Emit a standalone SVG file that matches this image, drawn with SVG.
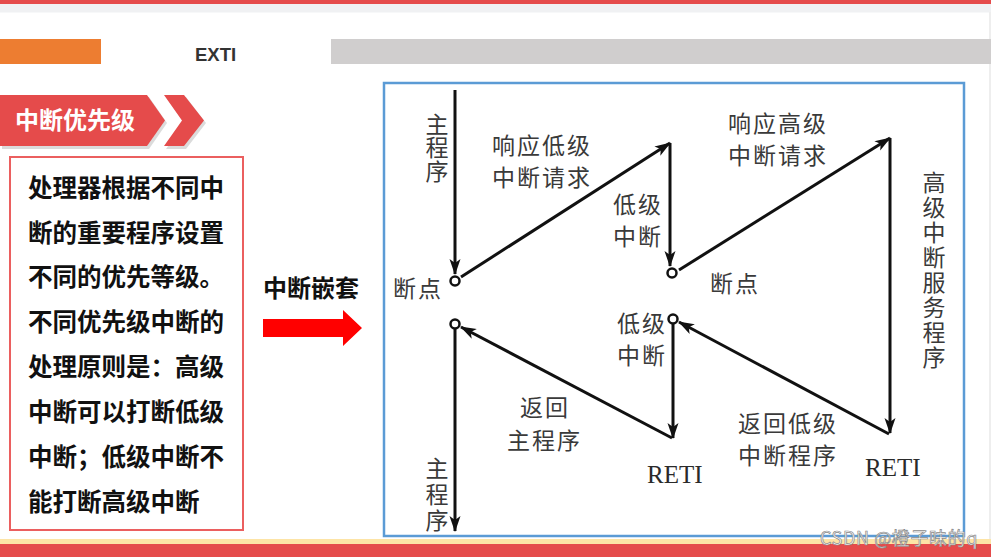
<svg xmlns="http://www.w3.org/2000/svg" width="991" height="557" viewBox="0 0 991 557">
<style>
.dg{font-family:"Noto Sans CJK SC","Noto Sans",sans-serif;font-size:23px;fill:#3a3a3a;letter-spacing:2px}
.dv{font-family:"Noto Sans CJK SC","Noto Sans",sans-serif;font-size:23px;fill:#3a3a3a;writing-mode:vertical-rl}
.reti{font-family:"Liberation Serif",serif;font-size:25px;fill:#2a2a2a}
.lt{font-family:"Noto Sans CJK SC","Noto Sans",sans-serif;font-size:24.5px;font-weight:bold;fill:#111}
.ln{stroke:#111;stroke-width:3;fill:none;marker-end:url(#ah)}
.ci{stroke:#111;stroke-width:2.5;fill:#fff}
</style>
<defs>
<marker id="ah" markerUnits="userSpaceOnUse" markerWidth="18" markerHeight="12" refX="15" refY="6" orient="auto" viewBox="0 0 18 12">
<path d="M0,0.5 L16,6 L0,11.5 L4,6 z" fill="#111"/>
</marker>
</defs>
<rect width="991" height="557" fill="#fff"/>
<g id="header">
<rect x="0" y="0" width="991" height="4" fill="#e54b4b"/>
<rect x="0" y="4" width="991" height="8.5" fill="#f0f1f3"/>
<rect x="989" y="12" width="2" height="527" fill="#eeeeee"/>
<rect x="0" y="39" width="101" height="25" fill="#ed7d31"/>
<text x="195" y="61" font-family="Liberation Sans,sans-serif" font-size="18.5" font-weight="bold" fill="#333">EXTI</text>
<rect x="331" y="39" width="660" height="25" fill="#d0cece"/>
</g>
<g id="footer">
<rect x="0" y="539" width="991" height="5" fill="#fde4a6"/>
<rect x="0" y="544" width="991" height="13" fill="#e54b4b"/>
</g>
<g id="title-banner">
<polygon points="2,97 149,97 167,123 149,149 2,149" fill="#999" opacity="0.35"/>
<polygon points="166,97 186,97 206,123 186,149 166,149 184,123" fill="#999" opacity="0.35"/>
<polygon points="0,95 147,95 165,120.5 147,146 0,146" fill="#e54b4b"/>
<polygon points="164,95 184,95 204,120.5 184,146 164,146 182,120.5" fill="#e54b4b"/>
<text x="15" y="129" font-family="Noto Sans CJK SC,sans-serif" font-size="24" font-weight="bold" fill="#fff">中断优先级</text>
</g>
<g id="desc-box">
<rect x="10" y="157" width="233" height="373" fill="#fff" stroke="#eb5f5f" stroke-width="2"/>
<text class="lt" x="28" y="197">处理器根据不同中</text>
<text class="lt" x="28" y="242">断的重要程序设置</text>
<text class="lt" x="28" y="286">不同的优先等级。</text>
<text class="lt" x="28" y="331">不同优先级中断的</text>
<text class="lt" x="28" y="376">处理原则是：高级</text>
<text class="lt" x="28" y="421">中断可以打断低级</text>
<text class="lt" x="28" y="466">中断；低级中断不</text>
<text class="lt" x="28" y="511">能打断高级中断</text>
</g>
<g id="nest-arrow">
<text x="263" y="297" font-family="Noto Sans CJK SC,sans-serif" font-size="24" font-weight="bold" fill="#111">中断嵌套</text>
<polygon points="263,319 343,319 343,310 362,328 343,346 343,337 263,337" fill="#ff0000"/>
</g>
<rect id="frame" x="384" y="83" width="580" height="453" fill="none" stroke="#5b9bd5" stroke-width="2.5"/>
<g id="connectors">
<line class="ln" x1="455" y1="90" x2="455" y2="274"/>
<line class="ln" x1="461" y1="277" x2="670" y2="143"/>
<line class="ln" x1="670" y1="143" x2="670" y2="266"/>
<line class="ln" x1="679" y1="270" x2="890" y2="138"/>
<line class="ln" x1="890" y1="138" x2="890" y2="433"/>
<line class="ln" x1="889" y1="434" x2="679" y2="322"/>
<line class="ln" x1="673" y1="323" x2="673" y2="438"/>
<line class="ln" x1="672" y1="438" x2="461" y2="327"/>
<line class="ln" x1="455" y1="329" x2="455" y2="531"/>
</g>
<g id="nodes">
<g id="bp1"><circle class="ci" cx="455" cy="281" r="4.5"/><text class="dg" x="393" y="297">断点</text></g>
<g id="bp2"><circle class="ci" cx="672" cy="273" r="4.5"/><text class="dg" x="710" y="292">断点</text></g>
<g id="ret-low"><circle class="ci" cx="673" cy="319" r="4.5"/><text class="dg"><tspan x="617" y="332">低级</tspan><tspan x="617" y="364">中断</tspan></text></g>
<g id="ret-main"><circle class="ci" cx="455" cy="324" r="4.5"/></g>
<g id="main-top"><text class="dv" x="437" y="112.5" style="letter-spacing:0.5px">主程序</text></g>
<g id="req-low"><text class="dg"><tspan x="492" y="154">响应低级</tspan><tspan x="492" y="186">中断请求</tspan></text></g>
<g id="low-int"><text class="dg"><tspan x="613" y="213">低级</tspan><tspan x="613" y="245">中断</tspan></text></g>
<g id="req-high"><text class="dg"><tspan x="728" y="132">响应高级</tspan><tspan x="728" y="164">中断请求</tspan></text></g>
<g id="high-isr"><text class="dv" x="934" y="170.5" style="letter-spacing:2.1px">高级中断服务程序</text></g>
<g id="ret-main-label"><text class="dg"><tspan x="520" y="416">返回</tspan><tspan x="507" y="449">主程序</tspan></text></g>
<g id="ret-low-label"><text class="dg"><tspan x="738" y="432">返回低级</tspan><tspan x="738" y="464">中断程序</tspan></text></g>
<g id="main-bottom"><text class="dv" x="437" y="456.5" style="letter-spacing:3px">主程序</text></g>
<g id="reti1"><text class="reti" x="647" y="483">RETI</text></g>
<g id="reti2"><text class="reti" x="865" y="476">RETI</text></g>
</g>
<text x="820" y="545" font-family="Noto Sans CJK SC,sans-serif" font-size="18" letter-spacing="0.6" fill="#fafafa" stroke="#8a8a8a" stroke-width="0.7">CSDN @橙子味的q</text>
</svg>
